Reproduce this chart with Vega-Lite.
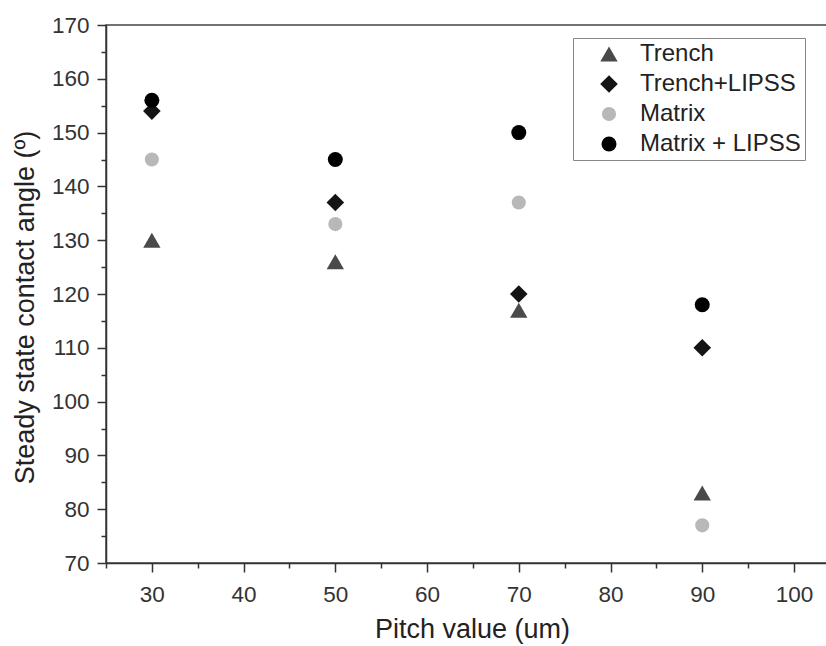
{
  "$schema": "https://vega.github.io/schema/vega-lite/v6.json",
  "autosize": {"type": "none"},
  "width": 721,
  "height": 538,
  "padding": {"left": 106, "top": 25, "right": 0, "bottom": 83},
  "background": "white",
  "config": {
    "view": {"stroke": "#444444", "strokeWidth": 1.5},
    "font": "Liberation Sans",
    "axis": {
      "domainColor": "#333333", "domainWidth": 1.5,
      "tickColor": "#333333", "tickWidth": 1.5,
      "grid": false,
      "labelFont": "Liberation Sans", "labelFontSize": 22.5, "labelColor": "#333333",
      "titleFont": "Liberation Sans", "titleFontSize": 27, "titleFontWeight": "normal", "titleColor": "#222222"
    }
  },
  "data": {
    "values": [
      {"pitch": 30, "angle": 130, "series": "Trench"},
      {"pitch": 50, "angle": 126, "series": "Trench"},
      {"pitch": 70, "angle": 117, "series": "Trench"},
      {"pitch": 90, "angle": 83, "series": "Trench"},
      {"pitch": 30, "angle": 154, "series": "Trench+LIPSS"},
      {"pitch": 50, "angle": 137, "series": "Trench+LIPSS"},
      {"pitch": 70, "angle": 120, "series": "Trench+LIPSS"},
      {"pitch": 90, "angle": 110, "series": "Trench+LIPSS"},
      {"pitch": 30, "angle": 145, "series": "Matrix"},
      {"pitch": 50, "angle": 133, "series": "Matrix"},
      {"pitch": 70, "angle": 137, "series": "Matrix"},
      {"pitch": 90, "angle": 77, "series": "Matrix"},
      {"pitch": 30, "angle": 156, "series": "Matrix + LIPSS"},
      {"pitch": 50, "angle": 145, "series": "Matrix + LIPSS"},
      {"pitch": 70, "angle": 150, "series": "Matrix + LIPSS"},
      {"pitch": 90, "angle": 118, "series": "Matrix + LIPSS"}
    ]
  },
  "layer": [
    {
      "mark": {"type": "point", "filled": true, "opacity": 1},
      "encoding": {
        "x": {
          "field": "pitch", "type": "quantitative",
          "scale": {"domain": [25, 103.6], "nice": false, "zero": false},
          "axis": {"title": "Pitch value (um)", "values": [30, 40, 50, 60, 70, 80, 90, 100], "tickSize": 9, "labelPadding": 11, "titlePadding": 11, "titleX": 366}
        },
        "y": {
          "field": "angle", "type": "quantitative",
          "scale": {"domain": [70, 170], "nice": false, "zero": false},
          "axis": {"title": "Steady state contact angle (º)", "values": [70, 80, 90, 100, 110, 120, 130, 140, 150, 160, 170], "tickSize": 9, "labelPadding": 8, "titlePadding": 12, "titleY": 282}
        },
        "color": {
          "field": "series", "type": "nominal",
          "scale": {"domain": ["Trench", "Trench+LIPSS", "Matrix", "Matrix + LIPSS"], "range": ["#4a4a4a", "#141414", "#b8b8b8", "#000000"]},
          "legend": {
            "title": null, "orient": "none", "legendX": 467, "legendY": 13,
            "strokeColor": "#888888", "padding": 4, "symbolOffset": 20,
            "labelFont": "Liberation Sans", "labelFontSize": 24, "labelColor": "#222222", "labelLimit": 400,
            "labelOffset": 19, "symbolSize": 170, "rowPadding": 6, "fillColor": "white"
          }
        },
        "shape": {
          "field": "series", "type": "nominal",
          "scale": {"domain": ["Trench", "Trench+LIPSS", "Matrix", "Matrix + LIPSS"], "range": ["triangle-up", "diamond", "circle", "circle"]}
        },
        "size": {
          "field": "series", "type": "nominal", "legend": null,
          "scale": {"type": "ordinal", "domain": ["Trench", "Trench+LIPSS", "Matrix", "Matrix + LIPSS"], "range": [300, 310, 200, 225]}
        }
      }
    },
    {
      "mark": {"type": "point", "opacity": 0},
      "encoding": {
        "x": {
          "field": "pitch", "type": "quantitative",
          "scale": {"domain": [25, 103.6], "nice": false, "zero": false},
          "axis": {"orient": "bottom", "title": null, "labels": false, "domain": false, "values": [25, 35, 45, 55, 65, 75, 85, 95], "tickSize": 5}
        },
        "y": {
          "field": "angle", "type": "quantitative",
          "scale": {"domain": [70, 170], "nice": false, "zero": false},
          "axis": {"orient": "left", "title": null, "labels": false, "domain": false, "values": [75, 85, 95, 105, 115, 125, 135, 145, 155, 165], "tickSize": 5}
        }
      }
    }
  ],
  "resolve": {"axis": {"x": "independent", "y": "independent"}}
}
